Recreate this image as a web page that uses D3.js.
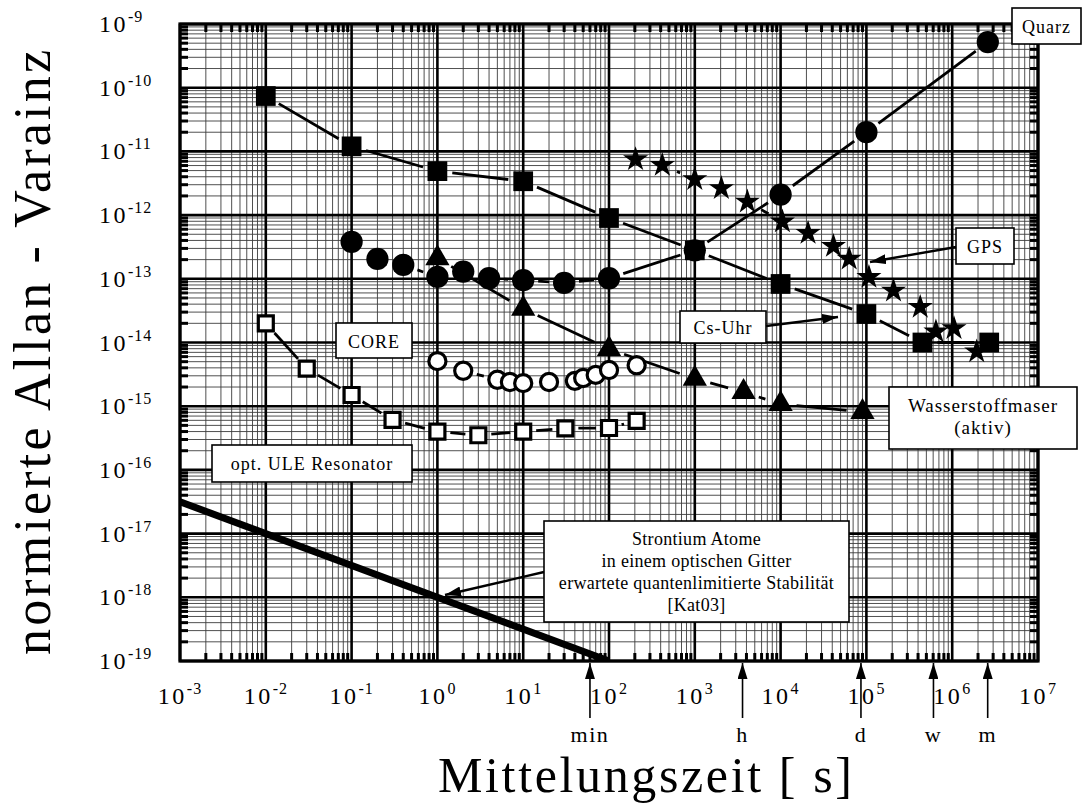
<!DOCTYPE html>
<html>
<head>
<meta charset="utf-8">
<script src="https://cdn.jsdelivr.net/npm/d3@7"></script>
<style>
  body { margin: 0; background: #fff; }
  svg { display: block; }
  text { font-family: "Liberation Serif", "DejaVu Serif", serif; fill: #000; }
</style>
</head>
<body>
<svg id="chart" width="1083" height="805"></svg>
<script>
// ---- axis ticks ----------------------------------------------------------
const xTickExponents = ["-3", "-2", "-1", "0", "1", "2", "3", "4", "5", "6", "7"];
const yTickExponents = ["-9", "-10", "-11", "-12", "-13", "-14", "-15", "-16", "-17", "-18", "-19"];
const minorMultipliers = [2, 3, 4, 5, 6, 7, 8, 9];

// ---- time-scale markers under the x axis --------------------------------
const timeLabels = ["min", "h", "d", "w", "m"];
const timeSeconds = [60, 3600, 86400, 604800, 2592000];

// ---- series: averaging time tau [s] and normalised Allan deviation -------
const csTau   = [0.01, 0.1, 1, 10, 100, 1000, 10000, 100000, 450000, 2700000];
const csAdev  = [7.4e-11, 1.2e-11, 4.9e-12, 3.4e-12, 9.0e-13, 2.8e-13, 8.3e-14, 2.8e-14, 1.0e-14, 1.0e-14];

const quarzTau  = [0.1, 0.2, 0.4, 1, 2, 4, 10, 30, 100, 1000, 10000, 100000, 2600000];
const quarzAdev = [3.8e-13, 2.05e-13, 1.65e-13, 1.07e-13, 1.3e-13, 1.02e-13, 9.5e-14, 8.6e-14, 1.02e-13, 2.8e-13, 2.1e-12, 2.0e-11, 5.2e-10];

const gpsTau  = [204, 418, 1000, 2040, 4100, 10500, 20900, 41300, 63000, 107000, 207000, 424000, 646000, 1050000, 1930000];
const gpsAdev = [7.5e-12, 6.1e-12, 3.65e-12, 2.64e-12, 1.62e-12, 7.9e-13, 5.2e-13, 3.25e-13, 2.05e-13, 1.06e-13, 6.5e-14, 3.6e-14, 1.48e-14, 1.67e-14, 7.2e-15];

const maserTau  = [1, 10, 100, 1000, 3700, 10000, 90000];
const maserAdev = [2.1e-13, 3.4e-14, 7.9e-15, 2.7e-15, 1.67e-15, 1.08e-15, 8.1e-16];

const coreTau  = [1, 2, 5, 7, 10, 20, 40, 50, 70, 100, 210];
const coreAdev = [5.1e-15, 3.6e-15, 2.6e-15, 2.4e-15, 2.3e-15, 2.4e-15, 2.5e-15, 2.77e-15, 3.1e-15, 3.7e-15, 4.4e-15];

const uleTau  = [0.01, 0.03, 0.1, 0.3, 1, 3, 10, 31, 100, 210];
const uleAdev = [2.0e-14, 3.9e-15, 1.5e-15, 6.1e-16, 4.0e-16, 3.5e-16, 4.0e-16, 4.5e-16, 4.55e-16, 5.9e-16];

const srTau  = [0.001, 100];
const srAdev = [3.16e-17, 1.0e-19];

// ---- layout ---------------------------------------------------------------
const svg = d3.select("#chart");
const plot = { left: 180, right: 1038, top: 24, bottom: 661 };

const x = d3.scaleLog().domain([1e-3, 1e7]).range([plot.left, plot.right]);
const y = d3.scaleLog().domain([1e-19, 1e-9]).range([plot.bottom, plot.top]);

const majorX = xTickExponents.map(e => Math.pow(10, +e));
const majorY = yTickExponents.map(e => Math.pow(10, +e));
const minorX = majorX.slice(0, -1).flatMap(d => minorMultipliers.map(m => d * m));
const minorY = majorY.slice(1).flatMap(d => minorMultipliers.map(m => d * m));

const defs = svg.append("defs");
defs.append("clipPath").attr("id", "plotClip")
  .append("rect")
  .attr("x", plot.left).attr("y", plot.top)
  .attr("width", plot.right - plot.left).attr("height", plot.bottom - plot.top);

// arrowhead
defs.append("marker")
  .attr("id", "head")
  .attr("viewBox", "0 0 16 10")
  .attr("refX", 16).attr("refY", 5)
  .attr("markerWidth", 16).attr("markerHeight", 10)
  .attr("markerUnits", "userSpaceOnUse")
  .attr("orient", "auto")
  .append("path").attr("d", "M0,0 L16,5 L0,10 Z").attr("fill", "#000");

// ---- grid -------------------------------------------------------------------
const grid = svg.append("g");
grid.selectAll(".vminor").data(minorX).join("line")
  .attr("x1", d => x(d)).attr("x2", d => x(d))
  .attr("y1", plot.top).attr("y2", plot.bottom)
  .attr("stroke", "#3c3c3c").attr("stroke-width", 0.9);
grid.selectAll(".hminor").data(minorY).join("line")
  .attr("y1", d => y(d)).attr("y2", d => y(d))
  .attr("x1", plot.left).attr("x2", plot.right)
  .attr("stroke", "#3c3c3c").attr("stroke-width", 0.9);
grid.selectAll(".vmajor").data(majorX).join("line")
  .attr("x1", d => x(d)).attr("x2", d => x(d))
  .attr("y1", plot.top).attr("y2", plot.bottom)
  .attr("stroke", "#000").attr("stroke-width", 2.6);
grid.selectAll(".hmajor").data(majorY).join("line")
  .attr("y1", d => y(d)).attr("y2", d => y(d))
  .attr("x1", plot.left).attr("x2", plot.right)
  .attr("stroke", "#000").attr("stroke-width", 2.6);

// minor tick marks on the frame
const tickLen = 8;
const ticks = svg.append("g").attr("stroke", "#000").attr("stroke-width", 3);
minorX.forEach(d => {
  ticks.append("line").attr("x1", x(d)).attr("x2", x(d)).attr("y1", plot.bottom).attr("y2", plot.bottom - tickLen);
  ticks.append("line").attr("x1", x(d)).attr("x2", x(d)).attr("y1", plot.top).attr("y2", plot.top + tickLen);
});
minorY.forEach(d => {
  ticks.append("line").attr("y1", y(d)).attr("y2", y(d)).attr("x1", plot.left).attr("x2", plot.left + tickLen);
  ticks.append("line").attr("y1", y(d)).attr("y2", y(d)).attr("x1", plot.right).attr("x2", plot.right - tickLen);
});

// ---- series --------------------------------------------------------------
const series = [
  { tau: srTau,    adev: srAdev,    symbol: null,              size: 0,   fill: "none", gap: 0,  width: 7 },
  { tau: uleTau,   adev: uleAdev,   symbol: d3.symbolSquare,   size: 225, fill: "#fff", gap: 13, width: 2.8 },
  { tau: coreTau,  adev: coreAdev,  symbol: d3.symbolCircle,   size: 230, fill: "#fff", gap: 14, width: 2.8 },
  { tau: maserTau, adev: maserAdev, symbol: d3.symbolTriangle, size: 255, fill: "#000", gap: 16, width: 2.8 },
  { tau: gpsTau,   adev: gpsAdev,   symbol: d3.symbolStar,     size: 195, fill: "#000", gap: 16, width: 2.8 },
  { tau: csTau,    adev: csAdev,    symbol: d3.symbolSquare,   size: 390, fill: "#000", gap: 15, width: 2.8 },
  { tau: quarzTau, adev: quarzAdev, symbol: d3.symbolCircle,   size: 390, fill: "#000", gap: 15, width: 2.8 }
];

const lines = svg.append("g").attr("clip-path", "url(#plotClip)");
series.forEach(s => {
  const pts = s.tau.map((t, i) => [x(t), y(s.adev[i])]);
  d3.pairs(pts).forEach(([a, b]) => {
    const dx = b[0] - a[0], dy = b[1] - a[1];
    const len = Math.hypot(dx, dy);
    if (len <= 2 * s.gap + 1) return;
    const ux = dx / len, uy = dy / len;
    lines.append("line")
      .attr("x1", a[0] + ux * s.gap).attr("y1", a[1] + uy * s.gap)
      .attr("x2", b[0] - ux * s.gap).attr("y2", b[1] - uy * s.gap)
      .attr("stroke", "#000").attr("stroke-width", s.width);
  });
});

const markers = svg.append("g");
series.filter(s => s.symbol).forEach(s => {
  markers.selectAll(null).data(s.tau.map((t, i) => [t, s.adev[i]])).join("path")
    .attr("transform", d => `translate(${x(d[0])},${y(d[1])})`)
    .attr("d", d3.symbol(s.symbol, s.size)())
    .attr("fill", s.fill)
    .attr("stroke", "#000")
    .attr("stroke-width", s.fill === "#fff" ? 3.2 : 0);
});

// ---- frame ----------------------------------------------------------------
svg.append("rect")
  .attr("x", plot.left).attr("y", plot.top)
  .attr("width", plot.right - plot.left).attr("height", plot.bottom - plot.top)
  .attr("fill", "none").attr("stroke", "#000").attr("stroke-width", 3.2);

// ---- tick labels ------------------------------------------------------------
const xLab = svg.append("g");
xTickExponents.forEach(e => {
  const t = xLab.append("text")
    .attr("x", x(Math.pow(10, +e))).attr("y", 704)
    .attr("text-anchor", "middle")
    .attr("font-size", 24).attr("letter-spacing", 2.5);
  t.append("tspan").text("10");
  t.append("tspan").attr("dy", -10).attr("font-size", 16).attr("letter-spacing", 1).text(e);
});
const yLab = svg.append("g");
yTickExponents.forEach(e => {
  const t = yLab.append("text")
    .attr("x", 99).attr("y", y(Math.pow(10, +e)) + 8)
    .attr("font-size", 24).attr("letter-spacing", 2.5);
  t.append("tspan").text("10");
  t.append("tspan").attr("dy", -10).attr("font-size", 16).attr("letter-spacing", 1).text(e);
});

// ---- time markers ----------------------------------------------------------
const timeG = svg.append("g");
timeSeconds.forEach((s, i) => {
  timeG.append("line")
    .attr("x1", x(s)).attr("x2", x(s))
    .attr("y1", 718).attr("y2", plot.bottom + 2)
    .attr("stroke", "#000").attr("stroke-width", 1.6)
    .attr("marker-end", "url(#head)");
  timeG.append("text")
    .attr("x", x(s)).attr("y", 742)
    .attr("text-anchor", "middle")
    .attr("font-size", 22).attr("letter-spacing", 1.5)
    .text(timeLabels[i]);
});

// ---- axis titles ------------------------------------------------------------
svg.append("text")
  .attr("x", 438).attr("y", 792)
  .attr("font-size", 50)
  .attr("textLength", 414).attr("lengthAdjust", "spacing")
  .text("Mittelungszeit [ s]");

svg.append("text")
  .attr("transform", "translate(50,655) rotate(-90)")
  .attr("font-size", 52)
  .attr("textLength", 605).attr("lengthAdjust", "spacing")
  .text("normierte Allan - Varainz");

// ---- annotation boxes and arrows ------------------------------------------
function box(bx, by, bw, bh, rows, baselines, fs, ls) {
  const g = svg.append("g");
  g.append("rect").attr("x", bx).attr("y", by).attr("width", bw).attr("height", bh)
    .attr("fill", "#fff").attr("stroke", "#000").attr("stroke-width", 1.6);
  rows.forEach((l, i) => {
    g.append("text").attr("x", bx + bw / 2).attr("y", baselines[i])
      .attr("text-anchor", "middle").attr("font-size", fs).attr("letter-spacing", ls)
      .text(l);
  });
}
function arrow(x1, y1, x2, y2) {
  svg.append("line").attr("x1", x1).attr("y1", y1).attr("x2", x2).attr("y2", y2)
    .attr("stroke", "#000").attr("stroke-width", 2.4).attr("marker-end", "url(#head)");
}

box(1012, 8, 69, 36, ["Quarz"], [33], 18, 1);
box(956, 228, 58, 36, ["GPS"], [253], 18, 1);
arrow(956, 247, 870, 262);
box(680, 311, 86, 32, ["Cs-Uhr"], [334], 18, 1);
arrow(766, 326, 838, 317);
box(889, 387, 188, 62, ["Wasserstoffmaser", "(aktiv)"], [412, 434], 19, 1);
box(336, 323, 76, 35, ["CORE"], [348], 18, 1);
box(212, 445, 200, 37, ["opt. ULE Resonator"], [470], 18, 1);
arrow(544, 572, 445, 595);
box(544, 521, 305, 101,
  ["Strontium Atome", "in einem optischen Gitter", "erwartete quantenlimitierte Stabilität", "[Kat03]"],
  [545, 567, 589, 611], 18, 0.3);
</script>
</body>
</html>
